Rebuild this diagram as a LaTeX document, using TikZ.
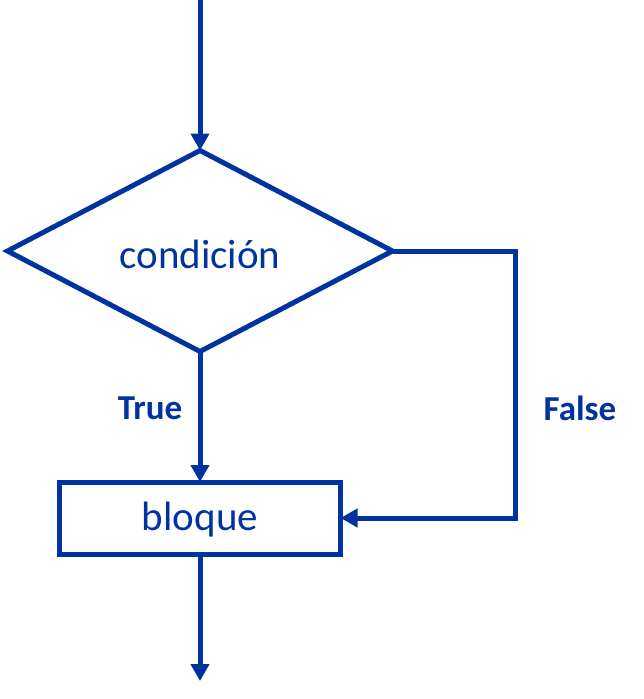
\documentclass[tikz,border=0pt]{standalone}
\usepackage{fontspec}
\setmainfont{Carlito}
\usetikzlibrary{shapes.geometric,arrows.meta}
\definecolor{fcblue}{HTML}{0033A0}
\begin{document}
\begin{tikzpicture}[x=1pt,y=-1pt,
  line width=5pt,
  conn/.style={draw=fcblue,-{Triangle[length=17pt,width=18pt]}},
  cond/.style={draw=fcblue,diamond,inner sep=0pt,outer sep=0pt,minimum width=385pt,minimum height=201pt},
  blockbox/.style={draw=fcblue,rectangle,inner sep=0pt,outer sep=0pt,minimum width=281pt,minimum height=72pt},
  txt/.style={text=fcblue,font=\fontsize{41}{45}\selectfont},
  lbl/.style={text=fcblue,font=\fontsize{35}{40}\selectfont\bfseries}]
\useasboundingbox (0,0) rectangle (644,699);
\node[cond] (c) at (200,251) {};
\node[blockbox] (b) at (200,518) {};
\node[txt] (ct) at (200,254) {condición};
\node[txt] (bt) at (200,520) {bloque};
\coordinate (top) at (200,0);
\coordinate (bot) at (200,681);
\coordinate (r1) at (515,251);
\coordinate (r2) at (515,518);
\draw[conn] (top) -- (c.north);
\draw[conn] (c.south) -- (b.north);
\draw[conn] (b.south) -- (bot);
\draw[conn] (c.east) -- (r1) -- (r2) -- (b.east);
\node[lbl] (t) at (150,408) {True};
\node[lbl] (f) at (580,408) {False};
\end{tikzpicture}
\end{document}
